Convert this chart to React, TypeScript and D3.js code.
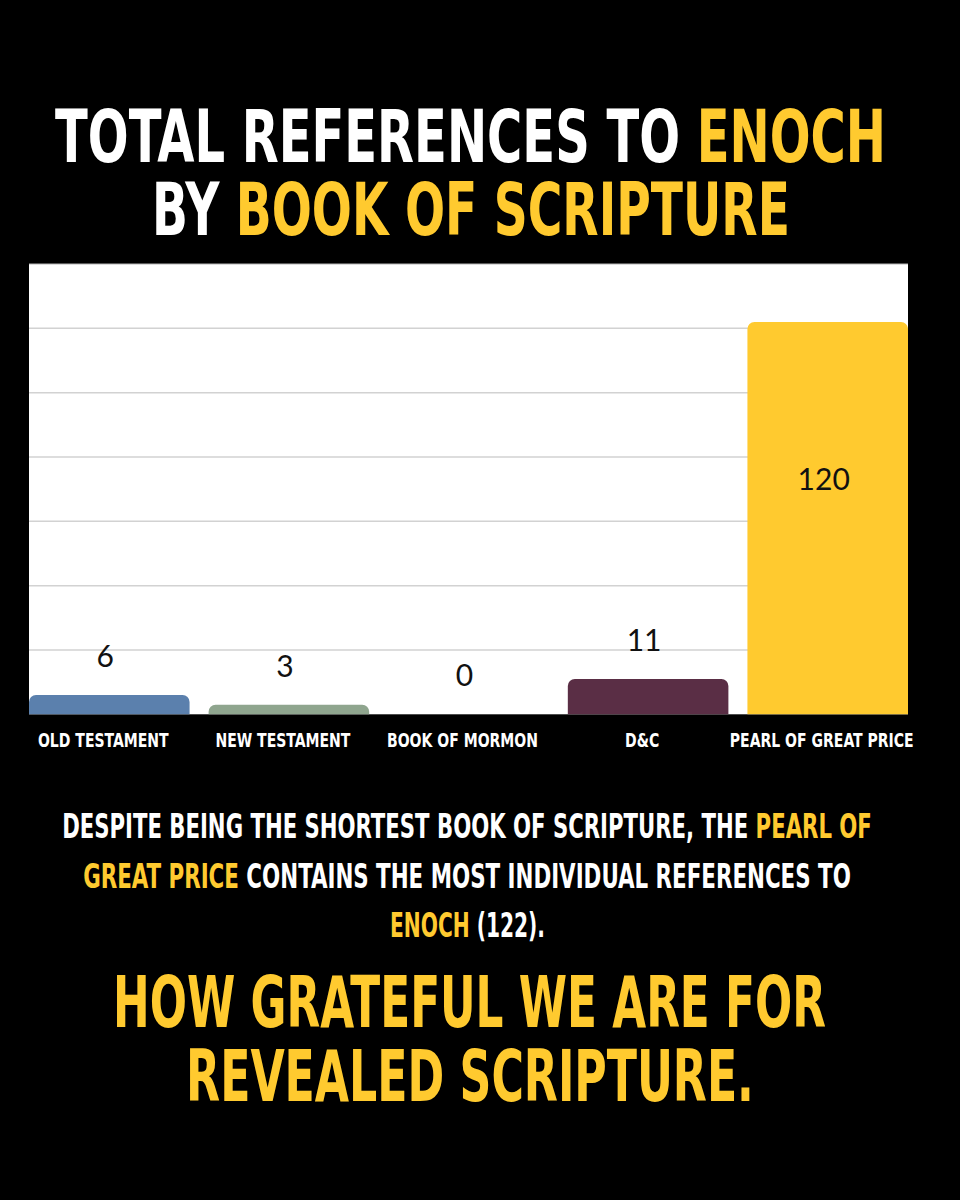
import React, { useLayoutEffect, useRef, useState } from "react";
import * as d3 from "d3";

const categories = ["OLD TESTAMENT", "NEW TESTAMENT", "BOOK OF MORMON", "D&C", "PEARL OF GREAT PRICE"];
const values = [6, 3, 0, 11, 122];
const valueLabels = ["6", "3", "0", "11", "120"];
const labelInside = [false, false, false, false, true];
const barColors = ["#5b80ad", "#8fa58e", "#ffffff", "#5a2e45", "#ffca2f"];
const yTicks = [20, 40, 60, 80, 100, 120];
const yMax = 140;

const W = 960;
const H = 1200;
const YELLOW = "#ffca2f";
const COND = "'Liberation Sans Narrow', 'DejaVu Sans Condensed', 'Roboto Condensed', 'DejaVu Sans', sans-serif";

const plot = { left: 29, right: 908, top: 264, bottom: 714.3 };

type Seg = { t: string; c: string };
type Line = { segs: Seg[]; y: number; w: number; size: number; cx: number };
const textLines: Line[] = [
  { segs: [{ t: "TOTAL REFERENCES TO ", c: "#fff" }, { t: "ENOCH", c: YELLOW }], y: 162, w: 831, size: 73, cx: 470.5 },
  { segs: [{ t: "BY ", c: "#fff" }, { t: "BOOK OF SCRIPTURE", c: YELLOW }], y: 235, w: 638, size: 73, cx: 471 },
  { segs: [{ t: "DESPITE BEING THE SHORTEST BOOK OF SCRIPTURE, THE ", c: "#fff" }, { t: "PEARL OF", c: YELLOW }], y: 838, w: 810, size: 33, cx: 467 },
  { segs: [{ t: "GREAT PRICE", c: YELLOW }, { t: " CONTAINS THE MOST INDIVIDUAL REFERENCES TO", c: "#fff" }], y: 888, w: 768, size: 33, cx: 467 },
  { segs: [{ t: "ENOCH", c: YELLOW }, { t: " (122).", c: "#fff" }], y: 937, w: 155, size: 33, cx: 467.5 },
  { segs: [{ t: "HOW GRATEFUL WE ARE FOR", c: YELLOW }], y: 1027, w: 713, size: 71, cx: 469.5 },
  { segs: [{ t: "REVEALED SCRIPTURE.", c: YELLOW }], y: 1101, w: 568, size: 71, cx: 470 },
];

function topRounded(x: number, y: number, w: number, h: number, r: number) {
  if (h <= 0) return "";
  const rr = Math.min(r, h, w / 2);
  const p = d3.path();
  p.moveTo(x, y + h);
  p.lineTo(x, y + rr);
  p.arcTo(x, y, x + rr, y, rr);
  p.lineTo(x + w - rr, y);
  p.arcTo(x + w, y, x + w, y + rr, rr);
  p.lineTo(x + w, y + h);
  p.closePath();
  return p.toString();
}

export default function App() {
  const x = d3.scaleBand<string>().domain(categories).range([plot.left, plot.right]).paddingInner(0.106).paddingOuter(0);
  const y = d3.scaleLinear().domain([0, yMax]).range([plot.bottom, plot.top]);

  const refs = useRef<(SVGTextElement | null)[]>([]);
  const [scales, setScales] = useState<number[]>(textLines.map(() => 1));

  useLayoutEffect(() => {
    const s = textLines.map((ln, i) => {
      const el = refs.current[i];
      if (!el) return 1;
      const nat = el.getComputedTextLength();
      return nat > 0 ? ln.w / nat : 1;
    });
    setScales(s);
  }, []);

  return (
    <svg width={W} height={H} style={{ position: "absolute", left: 0, top: 0, display: "block" }}>
      <rect x={0} y={0} width={W} height={H} fill="#000" />

      {textLines.map((ln, i) => (
        <g key={i} transform={`translate(${ln.cx},${ln.y}) scale(${scales[i]},1)`}>
          <text
            ref={(el) => {
              refs.current[i] = el;
            }}
            x={0}
            y={0}
            textAnchor="middle"
            fontFamily={COND}
            fontWeight={700}
            fontSize={ln.size}
            style={{ whiteSpace: "pre" }}
          >
            {ln.segs.map((s, j) => (
              <tspan key={j} fill={s.c}>
                {s.t}
              </tspan>
            ))}
          </text>
        </g>
      ))}

      <rect x={plot.left} y={plot.top} width={plot.right - plot.left} height={plot.bottom - plot.top} fill="#fff" />
      <line x1={plot.left} x2={plot.right} y1={y(yMax)} y2={y(yMax)} stroke="#b5b5b5" strokeWidth={1} />
      {yTicks.map((t) => (
        <line key={t} x1={plot.left} x2={plot.right} y1={y(t)} y2={y(t)} stroke="#d2d2d2" strokeWidth={1.5} />
      ))}

      {categories.map((c, i) => {
        const bx = x(c)!;
        const bw = x.bandwidth();
        const top = y(values[i]);
        return <path key={c} d={topRounded(bx, top, bw, plot.bottom - top, 7)} fill={barColors[i]} />;
      })}

      {categories.map((c, i) => {
        const cx = x(c)! + x.bandwidth() / 2;
        const ly = labelInside[i] ? y(values[i] * 0.6) + 11 : y(values[i]) - 28;
        return (
          <text key={c} x={cx - 4} y={ly} textAnchor="middle" fontFamily="Lato, 'Open Sans', sans-serif" fontSize={30} fill="#111">
            {valueLabels[i]}
          </text>
        );
      })}

      {categories.map((c) => {
        const cx = x(c)! + x.bandwidth() / 2 - 6;
        return (
          <g key={c} transform={`translate(${cx},747) scale(0.78,1)`}>
            <text x={0} y={0} textAnchor="middle" fontFamily={COND} fontWeight={700} fontSize={20} fill="#fff">
              {c}
            </text>
          </g>
        );
      })}
    </svg>
  );
}
